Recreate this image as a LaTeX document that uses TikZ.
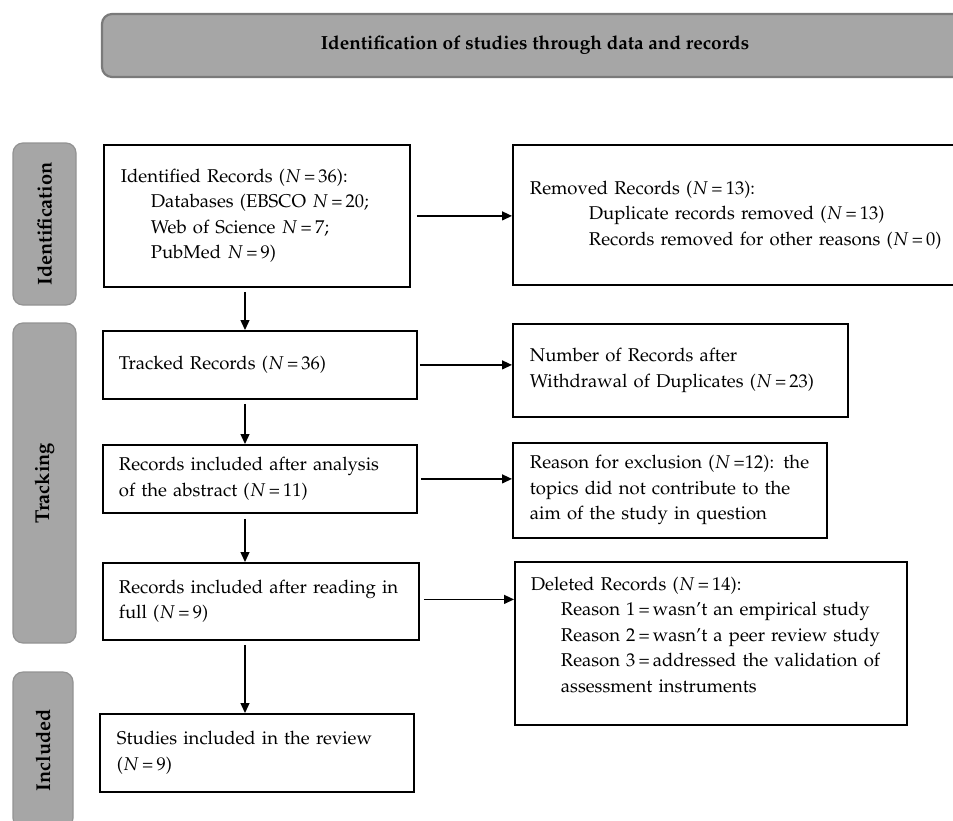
\documentclass[tikz,border=0pt]{standalone}
\usepackage[T1]{fontenc}
\usepackage{mathpazo}
\usetikzlibrary{arrows.meta}
\definecolor{labfill}{HTML}{A6A6A6}
\definecolor{labdraw}{HTML}{939393}
\definecolor{bandraw}{HTML}{7A7A7A}
\newcommand{\mfs}{\fontsize{18.5}{25.5}\selectfont}
\newcommand{\bfs}{\fontsize{20}{24}\selectfont}
\newcommand{\banfs}{\fontsize{19}{23}\selectfont}
\newcommand{\ind}[1]{\hspace*{#1pt}}
\newcommand{\NN}[1]{\mbox{$N$\,=\,#1}}
\begin{document}
\begin{tikzpicture}[x=1pt,y=-1pt,
  box/.style={draw=black, line width=1.8pt, anchor=north west, align=left, font=\mfs, inner ysep=0pt},
  lab/.style={fill=labfill, draw=labdraw, line width=1.2pt, rounded corners=10pt, rotate=90, font=\bfs\bfseries, inner sep=0pt},
  banner/.style={fill=labfill, draw=bandraw, line width=2.2pt, rounded corners=10pt, font=\banfs\bfseries, inner sep=0pt},
  arr/.style={line width=1.3pt, -{Triangle[length=10pt,width=9pt]}}]
\useasboundingbox (0,0) rectangle (953,820);
\clip (0,0) rectangle (953,820);
\coordinate (col) at (245,0);
% banner
\node[banner, minimum width=866, minimum height=63] (ban) at (535,45.5) {Identification of studies through data and records};
% phase labels
\node[lab, minimum width=162, minimum height=63] (labI) at (44.5,224) {Identification};
\node[lab, minimum width=320, minimum height=63] (labT) at (44.5,483) {Tracking};
\node[lab, minimum width=156, minimum height=60] (labC) at (43,750) {Included};
% left column
\node[box, inner xsep=17pt, text width=272pt, minimum height=142pt] (ident) at (103,144)
  {\mbox{Identified Records (\NN{36}):}\\ \ind{30}\mbox{Databases (EBSCO \NN{20};}\\ \ind{30}\mbox{Web of Science \NN{7};}\\ \ind{30}\mbox{PubMed \NN{9})}};
\node[box, inner xsep=16pt, text width=282pt, minimum height=68pt] (track) at (102,330)
  {\mbox{Tracked Records (\NN{36})}};
\node[box, inner xsep=16pt, text width=282pt, minimum height=68pt] (abst) at (102,444)
  {\mbox{Records included after analysis}\\ \mbox{of the abstract (\NN{11})}};
\node[box, inner xsep=16pt, text width=284pt, minimum height=77pt] (full) at (102,562)
  {\mbox{Records included after reading in}\\ \mbox{full (\NN{9})}};
\node[box, inner xsep=17pt, text width=280pt, minimum height=78pt] (incl) at (99,713)
  {\mbox{Studies included in the review}\\ \mbox{(\NN{9})}};
% right column
\node[box, inner xsep=17pt, text width=426pt, minimum height=140pt] (remov) at (512,144)
  {\mbox{Removed Records (\NN{13}):}\\ \ind{59}\mbox{Duplicate records removed (\NN{13})}\\ \ind{59}\mbox{Records removed for other reasons (\NN{0})}};
\node[box, inner xsep=17pt, text width=301pt, minimum height=93pt] (numb) at (512,323)
  {\mbox{Number of Records after}\\ \mbox{Withdrawal of Duplicates (\NN{23})}};
\node[box, inner xsep=17pt, text width=280pt, minimum height=95pt] (reas) at (512,442)
  {\mbox{Reason for exclusion ($N$\,=12): the}\\ \mbox{topics did not contribute to the}\\ \mbox{aim of the study in question}};
\node[box, inner xsep=16pt, text width=360pt, minimum height=163pt] (delet) at (514,561)
  {\mbox{Deleted Records (\NN{14}):}\\ \ind{30}\mbox{Reason 1\,=\,wasn't an empirical study}\\ \ind{30}\mbox{Reason 2\,=\,wasn't a peer review study}\\ \ind{30}\mbox{Reason 3\,=\,addressed the validation of}\\ \ind{30}\mbox{assessment instruments}\\[-7.5pt]\mbox{}};
% connectors
\draw[arr, shorten <=6pt] (ident.east) -- (ident.east -| remov.west);
\draw[arr, shorten <=2pt] (track.east) -- (track.east -| numb.west);
\draw[arr, shorten <=3pt] (abst.east) -- (abst.east -| reas.west);
\draw[arr, shorten <=4pt] ([yshift=2pt]full.east) -- ([yshift=2pt]full.east -| delet.west);
\draw[arr, shorten <=4pt] (ident.south -| col) -- (track.north -| col);
\draw[arr, shorten <=4pt] (track.south -| col) -- (abst.north -| col);
\draw[arr, shorten <=5pt] (abst.south -| col) -- (full.north -| col);
\draw[arr, shorten <=4pt] (full.south -| col) -- (incl.north -| col);
\end{tikzpicture}
\end{document}
